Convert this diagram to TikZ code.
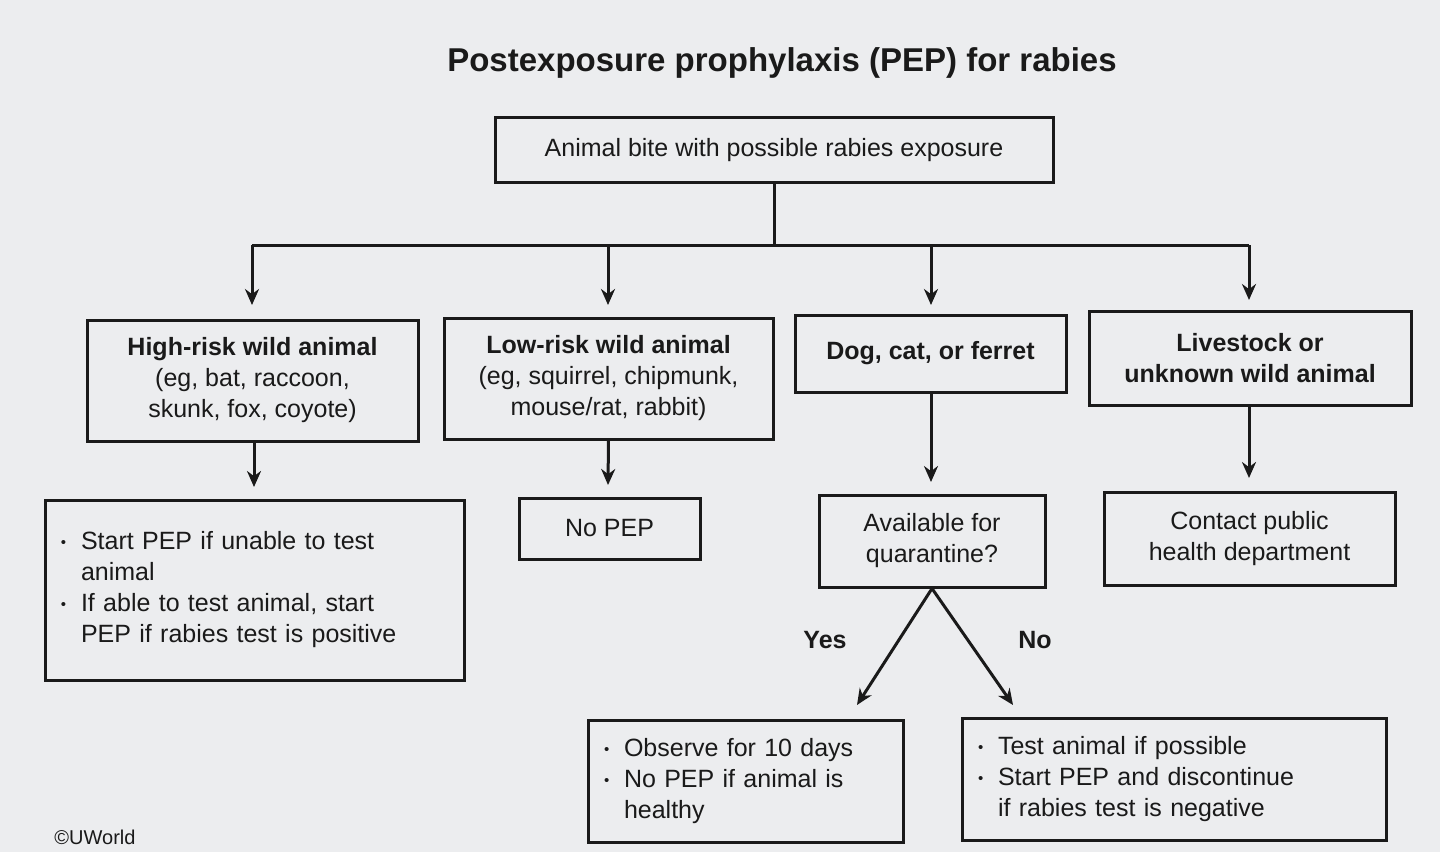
\documentclass[tikz,border=0pt]{standalone}
\usepackage{fontspec}
\setmainfont{Liberation Sans}
\usetikzlibrary{arrows.meta}
\definecolor{bg}{HTML}{ECEDEF}
\definecolor{ink}{HTML}{1A1A1A}
\newcommand{\bul}{\makebox[0.8em][l]{\raisebox{0.15ex}{\scalebox{0.6}{\textbullet}}}}
\newcommand{\ind}{\hspace*{0.8em}}
\begin{document}
\begin{tikzpicture}[x=0.5pt,y=-0.5pt,
  bx/.style={draw=ink,line width=1.5pt,inner sep=0pt,text=ink,font=\fontsize{12.5}{15.5}\selectfont},
  lbx/.style={bx,inner xsep=8pt,align=left},
  arr/.style={draw=ink,line width=1.5pt,-{Stealth[length=8pt,width=7pt]}},
  ln/.style={draw=ink,line width=1.5pt}]
\fill[bg] (0,0) rectangle (1440,852);
\useasboundingbox (0,0) rectangle (1440,852);
\node[font=\bfseries\fontsize{16.5}{19}\selectfont,text=ink] (title) at (782,63) {Postexposure prophylaxis (PEP) for rabies};
\node[bx,minimum width=279pt,minimum height=32.5pt] (top) at (774,150) {Animal bite with possible rabies exposure};
\node[bx,minimum width=165.5pt,minimum height=60.5pt,align=center] (hr) at (252.5,380.5) {\textbf{High-risk wild animal}\\(eg, bat, raccoon,\\skunk, fox, coyote)};
\node[bx,minimum width=164.5pt,minimum height=60.5pt,align=center] (lr) at (608.5,378.5) {\textbf{Low-risk wild animal}\\(eg, squirrel, chipmunk,\\mouse/rat, rabbit)};
\node[bx,minimum width=135.5pt,minimum height=38.5pt] (dog) at (930.5,353.5) {\textbf{Dog, cat, or ferret}};
\node[bx,minimum width=161pt,minimum height=47pt,align=center] (ls) at (1250,358) {\textbf{Livestock or}\\\textbf{unknown wild animal}};
\coordinate (j) at (774,245);
\coordinate (j1) at (252,245);
\coordinate (j4) at (1249,245);
\draw[ln] (top.south) -- (j);
\draw[ln] (j1) -- (j4);
\draw[arr] (j1) -- (252,305);
\draw[arr] (608,245) -- (608,305);
\draw[arr] (931,245) -- (931,305);
\draw[arr] (j4) -- (1249,300);
\node[lbx,text width=193.5pt,minimum height=90pt] (b1) at (254.5,590) {\bul Start PEP if unable to test\\\ind animal\\\bul If able to test animal, start\\\ind PEP if rabies test is positive};
\node[bx,minimum width=90.5pt,minimum height=30.5pt] (b2) at (609.5,528.5) {No PEP};
\node[bx,minimum width=113pt,minimum height=46pt,align=center] (b3) at (932,541) {Available for\\quarantine?};
\node[bx,minimum width=145.5pt,minimum height=46.5pt,align=center] (b4) at (1249.5,538.5) {Contact public\\health department};
\draw[arr] (254,441) -- (254,487);
\draw[arr] (lr.south) -- (608,485);
\draw[arr] (931,392) -- (931,482);
\draw[arr] (1249,405) -- (1249,478);
\node[lbx,text width=141.5pt,minimum height=61pt] (b5) at (745.5,781) {\bul Observe for 10 days\\\bul No PEP if animal is\\\ind healthy};
\node[lbx,text width=196pt,minimum height=61pt] (b6) at (1174,779) {\bul Test animal if possible\\\bul Start PEP and discontinue\\\ind if rabies test is negative};
\draw[arr] (b3.south) -- (857,705);
\draw[arr] (b3.south) -- (1013,705);
\node[font=\bfseries\fontsize{12.5}{15}\selectfont,text=ink] (yes) at (825,640) {Yes};
\node[font=\bfseries\fontsize{12.5}{15}\selectfont,text=ink] (no) at (1035,640) {No};
\node[font=\fontsize{10}{12}\selectfont,text=ink] (cr) at (95,837) {\textcopyright UWorld};
\end{tikzpicture}
\end{document}
